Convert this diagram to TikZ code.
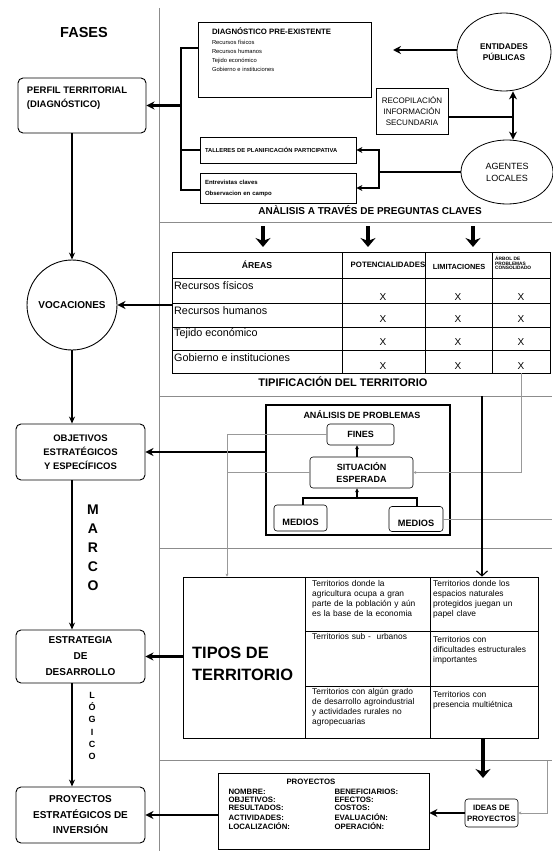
\documentclass[tikz,border=0pt]{standalone}
\usepackage{fontspec}
\setmainfont{Liberation Sans}
\usepackage{tikz}
\usetikzlibrary{arrows.meta, shapes.geometric, positioning}
\newcommand{\fsz}[2]{\fontsize{#1}{#2}\selectfont}
\tikzstyle{phasebox} = [draw, rounded corners=5pt, line width=0.9pt, font=\bfseries\fsz{9.5}{14}]
\tikzstyle{plainbox} = [draw, line width=0.8pt]
\tikzstyle{softbox} = [draw, rounded corners=3pt, line width=0.6pt]
\tikzstyle{divider} = [draw=black!45, line width=0.7pt]
\tikzstyle{gridline} = [draw, line width=0.8pt]
\tikzstyle{fatline} = [line width=2.2pt]
\tikzstyle{fatarrow} = [line width=2.2pt, -{Stealth[length=8pt,width=8pt]}]
\tikzstyle{downarrow} = [line width=3.6pt, -{Stealth[length=9pt,width=15pt]}]
\tikzstyle{flow} = [line width=1.4pt, -{Stealth[length=7pt,width=6pt]}]
\tikzstyle{medline} = [line width=1.5pt]
\tikzstyle{smallflow} = [line width=1.5pt, -{Stealth[length=4pt,width=4pt]}]
\tikzstyle{faint} = [draw=black!40, line width=0.5pt]
\tikzstyle{faintarrow} = [faint, -{Stealth[length=3pt,width=3pt]}]
\tikzstyle{openarrow} = [line width=1.1pt, -{Straight Barb[length=5pt,width=11pt]}]

\begin{document}
\begin{tikzpicture}[x=1pt, y=-1pt]
	\useasboundingbox (0,0) rectangle (552,851);

	% frame lines
	\draw[divider] (159,8) -- (159,851);
	\foreach \y in {222,396,548,760}
		\draw[divider] (159,\y) -- (552,\y);

	% phases
	\node (Fases) at (84,33) {\bfseries\fsz{14.5}{16}FASES};
	\node (Perfil) [phasebox, inner sep=0pt, minimum width=128pt] at (82,105.5)
		{\parbox[c][55pt][t]{110pt}{\raggedright\vspace*{9pt}PERFIL TERRITORIAL\\(DIAGNÓSTICO)}};
	\node (Vocaciones) [circle, draw, line width=0.9pt, minimum size=90pt, inner sep=0pt,
		font=\bfseries\fsz{10}{12}] at (72,305) {VOCACIONES};
	\node (Objetivos) [phasebox, align=center, minimum width=129pt, minimum height=56pt] at (80.5,452)
		{OBJETIVOS\\ESTRATÉGICOS\\Y ESPECÍFICOS};
	\node (Estrategia) [phasebox, align=center, minimum width=129pt, minimum height=53pt,
		font=\bfseries\fsz{10}{16}] at (80.5,656.5) {ESTRATEGIA\\DE\\DESARROLLO};
	\node (ProyEst) [phasebox, align=center, minimum width=129pt, minimum height=56pt,
		font=\bfseries\fsz{10}{15.5}] at (80.5,815) {PROYECTOS\\ESTRATÉGICOS DE\\INVERSIÓN};

	\draw[flow] (Perfil.south -| Vocaciones.north) -- (Vocaciones.north);
	\draw[flow] (Vocaciones.south) -- (Objetivos.north -| Vocaciones.south);
	\draw[flow] (Objetivos.south -| Vocaciones) -- (Estrategia.north -| Vocaciones);
	\draw[flow] (Estrategia.south -| Vocaciones) -- (ProyEst.north -| Vocaciones);

	\node (Marco) [align=center, font=\bfseries\fsz{14}{19}] at (93,548) {M\\A\\R\\C\\O};
	\node (Logico) [align=center, font=\bfseries\fsz{9}{12.2}] at (92,726) {L\\Ó\\G\\I\\C\\O};

	% diagnostico
	\node (Diag) [plainbox, inner sep=0pt, minimum width=173pt] at (284.5,59.5)
		{\parbox[c][75pt][t]{145pt}{\raggedright\vspace*{6pt}{\bfseries\fsz{7.8}{9}DIAGNÓSTICO PRE-EXISTENTE\par}\vspace{1pt}%
		\fsz{5.8}{9}Recursos físicos\\Recursos humanos\\Tejido económico\\Gobierno e instituciones}};
	\node (Entidades) [ellipse, draw, line width=0.8pt, minimum width=94pt, minimum height=78pt, inner sep=0pt,
		align=center, font=\bfseries\fsz{8.3}{10.5}] at (504,52) {ENTIDADES\\PÚBLICAS};
	\coordinate (DiagIn) at (393,50);
	\draw[fatarrow] (Entidades.west |- DiagIn) -- (DiagIn);

	\node (Recop) [plainbox, align=center, minimum width=72pt, minimum height=46pt, inner sep=1pt,
		font=\fsz{8}{11}] at (412,111) {RECOPILACIÓN\\INFORMACIÓN\\SECUNDARIA};
	\node (Agentes) [ellipse, draw, line width=0.8pt, minimum width=92pt, minimum height=64pt, inner sep=0pt,
		align=center, font=\fsz{9}{12}] at (507,172) {AGENTES\\LOCALES};
	\coordinate (RecHub) at (513,117);
	\draw[fatline] (Recop.east |- RecHub) -- (RecHub);
	\draw[fatarrow] (RecHub) -- (Entidades.south -| RecHub);
	\draw[fatarrow] (RecHub) -- (Agentes.north -| RecHub);

	% talleres
	\node (Talleres) [plainbox, text width=146pt, inner sep=5pt, minimum height=26pt, align=left,
		font=\bfseries\fsz{5.8}{7}] at (278,150) {TALLERES DE PLANIFICACIÓN PARTICIPATIVA};
	\node (Entrev) [plainbox, text width=146pt, inner sep=5pt, minimum height=30pt, align=left,
		font=\bfseries\fsz{6}{11}] at (278,188) {Entrevistas claves\\Observacion en campo};

	\coordinate (BrTop) at (181,48);
	\coordinate (BrBot) at (181,190);
	\draw[fatline] (BrTop -| Diag.west) -- (BrTop) -- (BrBot) -- (BrBot -| Entrev.west);
	\draw[fatline] (Talleres.west) -- (Talleres.west -| BrTop);
	\draw[fatarrow] (BrTop |- Perfil.east) -- (Perfil.east);

	\coordinate (AgHub) at (379,171);
	\draw[fatline] (Agentes.west) -- (Agentes.west -| AgHub);
	\draw[medline, {Stealth[length=6pt,width=6pt]}-{Stealth[length=6pt,width=6pt]}]
		(Talleres.east) -- (Talleres.east -| AgHub) -- (Entrev.east -| AgHub) -- (Entrev.east);

	\node (Preguntas) [font=\bfseries\fsz{10}{12}] at (370,210) {ANÀLISIS A TRAVÉS DE PREGUNTAS CLAVES};
	\foreach \x [count=\i] in {263,368,473} {
		\coordinate (Q\i) at (\x,226);
		\draw[downarrow] (Q\i) -- ++(0,21);
	}

	% table of areas
	\node (Tabla) [plainbox, minimum width=378pt, minimum height=121pt, inner sep=0pt] at (361,312.5) {};
	\foreach \y in {278,303,327,350}
		\draw[gridline] (172,\y) -- (550,\y);
	\foreach \x in {342,425,492}
		\draw[gridline] (\x,252) -- (\x,373);
	\node (Areas) [font=\bfseries\fsz{8.6}{10}] at (257,265) {ÁREAS};
	\node (Potenc) [font=\bfseries\fsz{7.8}{9}] at (388,265) {POTENCIALIDADES};
	\node (Limit) [font=\bfseries\fsz{7.4}{9}] at (459,267) {LIMITACIONES};
	\node (Arbol) [anchor=west, align=left, inner sep=0pt, font=\bfseries\fsz{4.8}{4.7}] at (495,263)
		{ÁRBOL DE\\PROBLEMAS\\CONSOLIDADO};
	\foreach \y/\txt in {286/Recursos físicos, 311/Recursos humanos, 334/Tejido económico, 358/Gobierno e instituciones}
		\node (Area\y) [anchor=west, inner sep=0pt, font=\fsz{10.8}{12}] at (174,\y) {\txt};
	\foreach \y in {297,319,342,366}
		\foreach \x in {383,458,521}
			\node (X\x\y) [font=\fsz{10}{12}] at (\x,\y) {X};
	\draw[fatarrow] (Tabla.west |- Vocaciones.east) -- (Vocaciones.east);

	\node (Tipif) [font=\bfseries\fsz{11}{12}] at (343,382) {TIPIFICACIÓN DEL TERRITORIO};

	% problem analysis
	\node (Analisis) [plainbox, line width=1.8pt, minimum width=184pt, minimum height=130pt] at (358,470) {};
	\node (AnTitulo) [font=\bfseries\fsz{9}{10}] at (362,415) {ANÁLISIS DE PROBLEMAS};
	\node (Fines) [softbox, minimum width=67pt, minimum height=21pt, font=\bfseries\fsz{9}{10}] at (360.5,434.5) {FINES};
	\node (Situacion) [softbox, align=center, minimum width=103pt, minimum height=31pt,
		font=\bfseries\fsz{9}{12}] at (361.5,472.5) {SITUACIÓN\\ESPERADA};
	\node (MediosA) [softbox, minimum width=53pt, minimum height=26pt, text height=14pt, text depth=0pt,
		font=\bfseries\fsz{9.2}{10}] at (300.5,518) {MEDIOS};
	\node (MediosB) [softbox, minimum width=54pt, minimum height=25pt, text height=14pt, text depth=0pt,
		font=\bfseries\fsz{9.2}{10}] at (416,519) {MEDIOS};
	\coordinate (MedL) at (303,498);
	\coordinate (MedR) at (417,498);
	\coordinate (MedJoin) at (357,498);
	\draw[medline] (MediosA.north -| MedL) -- (MedL) -- (MedR) -- (MediosB.north -| MedR);
	\draw[smallflow] (MedJoin) -- (Situacion.south -| MedJoin);
	\draw[smallflow] (Situacion.north -| MedJoin) -- (Fines.south -| MedJoin);
	\draw[fatarrow] (Analisis.west |- Objetivos.east) -- (Objetivos.east);

	% types of territory
	\node (Tipos) [plainbox, minimum width=355pt, minimum height=161pt, inner sep=0pt] at (360.5,657.5) {};
	\draw[gridline] (305,577) -- (305,738);
	\draw[gridline] (430,577) -- (430,738);
	\draw[gridline] (305,631) -- (538,631);
	\draw[gridline] (305,686) -- (538,686);
	\node (TiposTitulo) [anchor=west, align=left, inner sep=0pt, font=\bfseries\fsz{16.4}{22}] at (192,664)
		{TIPOS DE\\TERRITORIO};
	\tikzset{cell/.style={anchor=north west, align=left, inner sep=0pt, text width=120pt, font=\fsz{8.4}{10}}}
	\node (TipoA) [cell] at (312,580) {Territorios donde la\\agricultura ocupa a gran\\parte de la población y aún\\es la base de la economia};
	\node (TipoB) [cell] at (433,580) {Territorios donde los\\espacios naturales\\protegidos juegan un\\papel clave};
	\node (TipoC) [cell] at (312,633) {Territorios sub -\ \ urbanos};
	\node (TipoD) [cell] at (433,636) {Territorios con\\dificultades estructurales\\importantes};
	\node (TipoE) [cell] at (312,688) {Territorios con algún grado\\de desarrollo agroindustrial\\y actividades rurales no\\agropecuarias};
	\node (TipoF) [cell] at (433,691) {Territorios con\\presencia multiétnica};
	\draw[fatarrow] (Tipos.west |- Estrategia.east) -- (Estrategia.east);

	% thin links
	\coordinate (GreyL) at (227,432);
	\coordinate (GreyR) at (521,373);
	\coordinate (Edge) at (552,520);
	\coordinate (TipTop) at (482,396);
	\draw[faintarrow] (Fines.west) -| (GreyL |- Tipos.north);
	\draw[faint] (Situacion.west) -- (Situacion.west -| GreyL);
	\draw[faintarrow] (Tabla.south -| GreyR) |- (Situacion.east);
	\draw[faint] (MediosB.east) -- (MediosB.east -| Edge);
	\draw[openarrow] (TipTop) -- (Tipos.north -| TipTop);

	% projects
	\coordinate (IdeasTop) at (483,778);
	\draw[downarrow] (Tipos.south -| IdeasTop) -- (IdeasTop);
	\node (Proyectos) [plainbox, inner sep=0pt, minimum width=211pt] at (323.5,811)
		{\parbox[c][76pt][t]{190pt}{\raggedright\bfseries\fsz{7.8}{8.3}\vspace*{6pt}\hspace*{58pt}PROYECTOS\par\vspace{3pt}%
		\begin{tabular}{@{}p{106pt}@{}l@{}}
			NOMBRE: & BENEFICIARIOS:\\
			OBJETIVOS: & EFECTOS:\\
			RESULTADOS: & COSTOS:\\
			ACTIVIDADES: & EVALUACIÓN:\\
			LOCALIZACIÓN: & OPERACIÓN:
		\end{tabular}}};
	\node (Ideas) [softbox, align=center, minimum width=53pt, minimum height=28pt, inner sep=1pt,
		font=\bfseries\fsz{7.8}{11}] at (491.5,813) {IDEAS DE\\PROYECTOS};
	\draw[fatarrow] (Ideas.west) -- (Ideas.west -| Proyectos.east);
	\draw[fatarrow] (Proyectos.west |- ProyEst.east) -- (ProyEst.east);
	\coordinate (GreyB) at (547,761);
	\draw[faintarrow] (GreyB) |- (Ideas.east);
\end{tikzpicture}
\end{document}
